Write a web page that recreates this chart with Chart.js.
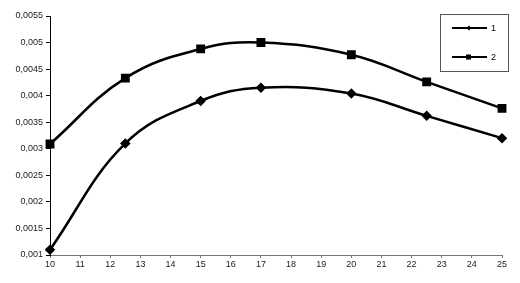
<!DOCTYPE html>
<html>
<head>
<meta charset="utf-8">
<script src="https://cdn.jsdelivr.net/npm/chart.js@4"></script>
<style>
    body { margin: 0; background: #fff; }
    #wrap { width: 520px; height: 283px; position: relative; }
</style>
</head>
<body>
<div id="wrap"><canvas id="chart"></canvas></div>
<script>
const xValues = [10, 12.5, 15, 17, 20, 22.5, 25];
const series1 = [0.0011, 0.0031, 0.0039, 0.00415, 0.00404, 0.00362, 0.0032];
const series2 = [0.00309, 0.00433, 0.00488, 0.005, 0.00477, 0.00426, 0.00376];
const seriesNames = ["1", "2"];
const xTicks = [10, 11, 12, 13, 14, 15, 16, 17, 18, 19, 20, 21, 22, 23, 24, 25];
const yTicks = [0.001, 0.0015, 0.002, 0.0025, 0.003, 0.0035, 0.004, 0.0045, 0.005, 0.0055];

function toPoints(values) {
    return values.map((v, i) => ({ x: xValues[i], y: v }));
}

function formatComma(value) {
    return Number(value.toFixed(4)).toString().replace(".", ",");
}

// legend box drawn inside the plot, like the original
const boxLegend = {
    id: "boxLegend",
    afterDraw(chart) {
        const ctx = chart.ctx;
        ctx.save();
        ctx.strokeStyle = "#555";
        ctx.lineWidth = 1;
        ctx.strokeRect(440.5, 14.5, 68, 57);
        chart.data.datasets.forEach((ds, i) => {
            const y = 28 + i * 29;
            ctx.strokeStyle = "#000";
            ctx.lineWidth = 2;
            ctx.beginPath();
            ctx.moveTo(452, y);
            ctx.lineTo(487, y);
            ctx.stroke();
            ctx.fillStyle = "#000";
            if (ds.pointStyle === "rect") {
                ctx.fillRect(466, y - 2.5, 5, 5);
            } else {
                ctx.beginPath();
                ctx.moveTo(469, y - 2.5);
                ctx.lineTo(471.5, y);
                ctx.lineTo(469, y + 2.5);
                ctx.lineTo(466.5, y);
                ctx.closePath();
                ctx.fill();
            }
            ctx.font = "9px 'Liberation Sans'";
            ctx.textBaseline = "middle";
            ctx.fillText(ds.label, 491, y + 1);
        });
        ctx.restore();
    }
};

new Chart(document.getElementById("chart").getContext("2d"), {
    type: "line",
    data: {
        datasets: [
            {
                label: seriesNames[0],
                data: toPoints(series1),
                borderColor: "#000",
                backgroundColor: "#000",
                borderWidth: 2.5,
                pointStyle: "rectRot",
                pointRadius: 3.5,
                tension: 0.4,
                clip: false
            },
            {
                label: seriesNames[1],
                data: toPoints(series2),
                borderColor: "#000",
                backgroundColor: "#000",
                borderWidth: 2.5,
                pointStyle: "rect",
                pointRadius: 4.5,
                tension: 0.4,
                clip: false
            }
        ]
    },
    options: {
        responsive: true,
        maintainAspectRatio: false,
        animation: false,
        layout: {
            padding: { top: 16, right: 18, left: 0, bottom: 0 }
        },
        plugins: {
            legend: { display: false },
            tooltip: { enabled: false }
        },
        scales: {
            x: {
                type: "linear",
                min: 10,
                max: 25,
                afterBuildTicks: (scale) => {
                    scale.ticks = xTicks.map((v) => ({ value: v }));
                },
                afterFit: (scale) => {
                    scale.height = 28;
                },
                grid: {
                    drawOnChartArea: false,
                    color: "#777",
                    tickLength: 3
                },
                border: { color: "#777", width: 1 },
                ticks: {
                    color: "#222",
                    font: { family: "'Liberation Sans'", size: 9 },
                    padding: 1,
                    maxRotation: 0,
                    autoSkip: false
                }
            },
            y: {
                min: 0.001,
                max: 0.0055,
                afterBuildTicks: (scale) => {
                    scale.ticks = yTicks.map((v) => ({ value: v }));
                },
                afterFit: (scale) => {
                    scale.width = 50;
                },
                grid: {
                    drawOnChartArea: false,
                    color: "#000",
                    tickLength: 4
                },
                border: { color: "#000", width: 1 },
                ticks: {
                    color: "#222",
                    font: { family: "'Liberation Sans'", size: 9 },
                    padding: 3,
                    autoSkip: false,
                    callback: (value) => formatComma(value)
                }
            }
        }
    },
    plugins: [boxLegend]
});
</script>
</body>
</html>
